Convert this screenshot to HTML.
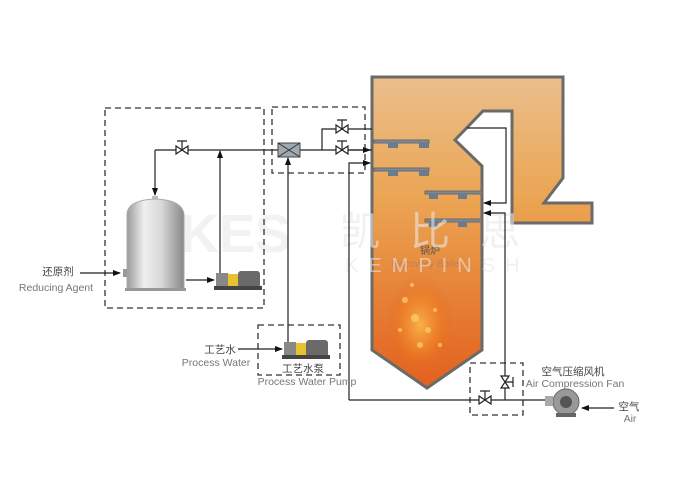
<!DOCTYPE html>
<html><head><style>
html,body{margin:0;padding:0;background:#fff}
svg{display:block}
text{font-family:"Liberation Sans","Noto Sans CJK SC",sans-serif}
</style></head><body>
<svg width="680" height="480" viewBox="0 0 680 480" xmlns="http://www.w3.org/2000/svg">
<defs>
<linearGradient id="og" x1="0" y1="0" x2="0" y2="1">
<stop offset="0" stop-color="#eabf8c"/><stop offset="0.4" stop-color="#eba452"/><stop offset="1" stop-color="#e2601e"/>
</linearGradient>
<linearGradient id="tank" x1="0" y1="0" x2="1" y2="0">
<stop offset="0" stop-color="#9a9a9a"/><stop offset="0.3" stop-color="#f0f0f0"/><stop offset="0.6" stop-color="#d8d8d8"/><stop offset="1" stop-color="#888"/>
</linearGradient>
<radialGradient id="fl" cx="0.5" cy="0.5" r="0.5">
<stop offset="0" stop-color="#ffc050" stop-opacity="0.8"/><stop offset="0.6" stop-color="#f08020" stop-opacity="0.5"/><stop offset="1" stop-color="#e06020" stop-opacity="0"/>
</radialGradient>
<marker id="ar" markerWidth="8" markerHeight="6" refX="7" refY="3" orient="auto" markerUnits="userSpaceOnUse"><path d="M0,0 L8,3 L0,6z" fill="#111"/></marker>
</defs>

<!-- boiler -->
<polygon points="372,77 563,77 563,178 544,203 592,203 592,223 512,223 512,111 483,111 455,140 482,166 482,350 427,388 372,350" fill="url(#og)" stroke="#6a6a6a" stroke-width="3"/>
<ellipse cx="420" cy="325" rx="34" ry="50" fill="url(#fl)"/>
<g fill="#ffd070" opacity="0.7">
<circle cx="405" cy="300" r="3"/><circle cx="415" cy="318" r="4"/><circle cx="428" cy="330" r="3"/><circle cx="420" cy="345" r="3"/>
<circle cx="400" cy="330" r="2"/><circle cx="435" cy="310" r="2"/><circle cx="412" cy="285" r="2"/><circle cx="440" cy="345" r="2"/>
</g>

<!-- lances -->
<g fill="#7a8a9a" stroke="#6a6a6a">
<rect x="374" y="140" width="55" height="3"/><rect x="374" y="168" width="55" height="3"/>
<rect x="425" y="191" width="57" height="3"/><rect x="425" y="219" width="57" height="3"/>
</g>
<g fill="#6c7c8c">
<rect x="388" y="143" width="10" height="5"/><rect x="419" y="143" width="10" height="5"/>
<rect x="388" y="171" width="10" height="5"/><rect x="419" y="171" width="10" height="5"/>
<rect x="429" y="194" width="9" height="5"/><rect x="458" y="194" width="9" height="5"/>
<rect x="429" y="222" width="9" height="5"/><rect x="458" y="222" width="9" height="5"/>
</g>
<text x="430" y="254" font-size="10" fill="#555" text-anchor="middle">锅炉</text>
<text x="427" y="267" font-size="10" fill="#c08050" text-anchor="middle">Recovery Boiler</text>

<!-- watermark -->
<text x="180" y="252" font-size="54" font-weight="bold" fill="#e8e8e8" opacity="0.55">KES</text>
<text x="340" y="245" font-size="40" fill="#e8e8e8" opacity="0.6" letter-spacing="30">凯比思</text>
<text x="345" y="272" font-size="20" fill="#e8e8e8" opacity="0.6" letter-spacing="10">KEMPINSH</text>

<!-- dashed boxes -->
<g fill="none" stroke="#333" stroke-width="1.3" stroke-dasharray="6,4">
<rect x="105" y="108" width="159" height="200"/>
<rect x="272" y="107" width="93" height="66"/>
<rect x="258" y="325" width="82" height="50"/>
<rect x="470" y="363" width="53" height="52"/>
</g>

<!-- pipes -->
<g fill="none" stroke="#222" stroke-width="1.2">
<path d="M155,150 H372" />
<path d="M155,150 V195" marker-end="url(#ar)"/>
<path d="M220,278 V151" marker-end="url(#ar)"/>
<path d="M322,150 V129 H372"/>
<path d="M340,150 H370" marker-end="url(#ar)"/>
<path d="M288,345 V158" marker-end="url(#ar)"/>
<path d="M349,400 V163 H370" marker-end="url(#ar)"/>
<path d="M349,400 H545"/>
<path d="M467,128 H506 V203 H484" marker-end="url(#ar)"/>
<path d="M505,400 V213 H484" marker-end="url(#ar)"/>
<path d="M80,273 H120" marker-end="url(#ar)"/>
<path d="M186,280 H214" marker-end="url(#ar)"/>
<path d="M238,349 H282" marker-end="url(#ar)"/>
<path d="M614,408 H582" marker-end="url(#ar)"/>
</g>

<!-- valves -->
<g fill="#fff" stroke="#222" stroke-width="1.2">
<path d="M176,146 L188,154 L188,146 L176,154z"/><path d="M182,150 V141 M177,141 H187"/>
<path d="M336,125 L348,133 L348,125 L336,133z"/><path d="M342,129 V120 M337,120 H347"/>
<path d="M336,146 L348,154 L348,146 L336,154z"/><path d="M342,150 V141 M337,141 H347"/>
<path d="M479,396 L491,404 L491,396 L479,404z"/><path d="M485,400 V391 M480,391 H490"/>
<path d="M501,376 L509,388 L501,388 L509,376z"/><path d="M505,382 H513 M513,377 V387"/>
</g>
<!-- mixer -->
<rect x="278" y="143" width="22" height="14" fill="#a0a8b0" stroke="#444"/>
<path d="M278,143 L300,157 M300,143 L278,157" stroke="#333"/>

<!-- tank -->
<path d="M127,215 Q127,200 155,199 Q183,200 184,215 V289 H127z" fill="url(#tank)" stroke="#aaa"/>
<rect x="125" y="288" width="61" height="3" fill="#999"/>
<rect x="152" y="196" width="6" height="4" fill="#bbb"/>
<rect x="123" y="269" width="4" height="8" fill="#999"/>

<!-- pumps -->
<g>
<rect x="216" y="273" width="12" height="13" fill="#888"/>
<rect x="228" y="274" width="10" height="12" fill="#e8c030"/>
<rect x="238" y="271" width="22" height="17" rx="3" fill="#6a6a6a"/>
<rect x="214" y="286" width="48" height="4" fill="#444"/>
<rect x="284" y="342" width="12" height="13" fill="#888"/>
<rect x="296" y="343" width="10" height="12" fill="#e8c030"/>
<rect x="306" y="340" width="22" height="17" rx="3" fill="#6a6a6a"/>
<rect x="282" y="355" width="48" height="4" fill="#444"/>
</g>
<!-- fan -->
<circle cx="566" cy="402" r="13" fill="#999" stroke="#666"/>
<circle cx="566" cy="402" r="6" fill="#555"/>
<rect x="545" y="396" width="8" height="10" fill="#aaa"/>
<rect x="556" y="413" width="20" height="4" fill="#666"/>

<!-- labels -->
<g font-size="10.5" fill="#444">
<text x="58" y="275" text-anchor="middle">还原剂</text>
<text x="56" y="291" text-anchor="middle" fill="#777">Reducing Agent</text>
<text x="220" y="353" text-anchor="middle">工艺水</text>
<text x="216" y="366" text-anchor="middle" fill="#777">Process Water</text>
<text x="303" y="372" text-anchor="middle">工艺水泵</text>
<text x="307" y="385" text-anchor="middle" fill="#777">Process Water Pump</text>
<text x="573" y="375" text-anchor="middle">空气压缩风机</text>
<text x="575" y="387" text-anchor="middle" fill="#777">Air Compression Fan</text>
<text x="629" y="410" text-anchor="middle">空气</text>
<text x="630" y="422" text-anchor="middle" fill="#777">Air</text>
</g>
</svg>
</body></html>
